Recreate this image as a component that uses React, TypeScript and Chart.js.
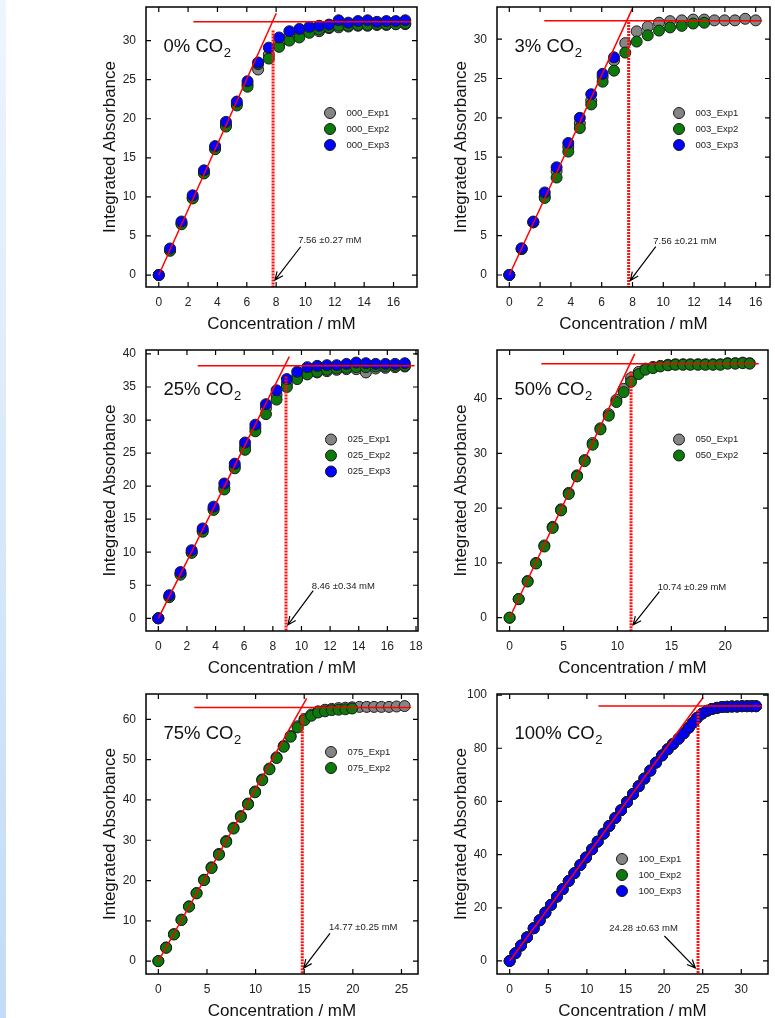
import React, { useEffect, useRef } from "react";
import { Chart, registerables } from "chart.js";

Chart.register(...registerables);

const FONT = 'Arial, "Liberation Sans", sans-serif';
const GRAY = "#858585";
const GREEN = "#0b7a0b";
const BLUE = "#0000ff";
const EDGE = "#1a1a1a";

// ---------- 0% CO2 ----------
const conc000 = [0, 0.77, 1.55, 2.31, 3.08, 3.84, 4.58, 5.32, 6.05, 6.77, 7.5, 8.2, 8.9, 9.58, 10.26, 10.93, 11.6, 12.26, 12.92, 13.58, 14.23, 14.87, 15.51, 16.15, 16.8];
const abs000_1 = [0, 3.2, 6.6, 9.9, 13.1, 16.2, 19.2, 21.9, 24.4, 26.3, 28.2, 29.7, 30.5, 31.0, 31.1, 31.2, 31.6, 31.7, 31.8, 31.9, 31.9, 32.0, 32.0, 32.1, 32.1];
const abs000_2 = [0, 3.1, 6.5, 9.8, 13.0, 16.1, 19.0, 21.7, 24.1, 27.0, 27.7, 29.2, 30.0, 30.4, 31.0, 31.4, 31.7, 31.9, 31.9, 32.0, 32.0, 32.1, 32.1, 32.1, 32.2];
const abs000_3 = [0, 3.4, 6.85, 10.2, 13.4, 16.5, 19.6, 22.2, 24.8, 27.2, 29.1, 30.4, 31.2, 31.5, 31.75, 31.9, 32.05, 32.6, 32.3, 32.5, 32.6, 32.4, 32.5, 32.5, 32.6];

// ---------- 3% CO2 ----------
const conc003_1 = [0, 0.8, 1.56, 2.3, 3.07, 3.83, 4.58, 5.32, 6.06, 6.8, 7.53, 8.27, 8.99, 9.72, 10.44, 11.2, 11.94, 12.66, 13.32, 13.98, 14.65, 15.32, 16.0];
const abs003_1 = [0, 3.3, 6.7, 10.0, 13.2, 16.3, 19.3, 22.2, 25.2, 27.3, 29.5, 31.0, 31.6, 32.1, 32.3, 32.4, 32.5, 32.5, 32.4, 32.4, 32.4, 32.6, 32.4];
const conc003_2 = [0, 0.8, 1.56, 2.3, 3.07, 3.83, 4.58, 5.32, 6.06, 6.8, 7.53, 8.27, 8.99, 9.72, 10.44, 11.2, 11.94, 12.66];
const abs003_2 = [0, 3.3, 6.7, 9.8, 12.4, 15.7, 18.7, 21.7, 24.6, 26.0, 28.3, 29.7, 30.5, 31.1, 31.5, 31.7, 32.0, 32.1];
const conc003_3 = [0, 0.8, 1.56, 2.3, 3.07, 3.83, 4.58, 5.32, 6.06, 6.8];
const abs003_3 = [0, 3.4, 6.8, 10.5, 13.7, 16.8, 20.0, 23.0, 25.6, 27.7];

// ---------- 25% CO2 ----------
const conc025 = [0, 0.77, 1.55, 2.33, 3.1, 3.86, 4.61, 5.34, 6.06, 6.78, 7.52, 8.26, 8.98, 9.7, 10.41, 11.1, 11.78, 12.46, 13.14, 13.82, 14.5, 15.18, 15.86, 16.54, 17.22];
const abs025_1 = [0, 3.3, 6.7, 10.0, 13.3, 16.6, 19.8, 23.0, 26.0, 28.8, 31.8, 33.8, 35.5, 36.6, 37.0, 37.2, 37.4, 37.6, 37.7, 37.7, 37.2, 37.8, 37.9, 38.0, 38.1];
const abs025_2 = [0, 3.2, 6.6, 9.9, 13.1, 16.4, 19.5, 22.7, 25.5, 28.3, 30.9, 33.1, 35.0, 36.2, 36.9, 37.3, 37.6, 37.8, 37.9, 38.0, 38.0, 38.1, 38.1, 38.2, 38.2];
const abs025_3 = [0, 3.5, 7.0, 10.3, 13.6, 16.9, 20.4, 23.4, 26.6, 29.3, 32.4, 34.5, 36.2, 37.3, 38.0, 38.2, 38.3, 38.3, 38.5, 38.7, 38.6, 38.5, 38.5, 38.5, 38.6];

// ---------- 50% CO2 ----------
const conc050 = [0, 0.84, 1.67, 2.45, 3.22, 3.99, 4.77, 5.48, 6.25, 6.96, 7.7, 8.42, 9.19, 9.9, 10.58, 11.26, 11.97, 12.6, 13.3, 13.98, 14.69, 15.37, 16.08, 16.76, 17.47, 18.15, 18.86, 19.54, 20.22, 20.93, 21.61, 22.26];
const abs050_1 = [0, 3.4, 6.7, 10.0, 13.2, 16.6, 19.8, 22.8, 26.0, 28.8, 31.9, 34.6, 37.2, 39.8, 41.8, 43.8, 44.9, 45.5, 45.8, 46.0, 46.2, 46.3, 46.3, 46.3, 46.3, 46.3, 46.3, 46.3, 46.5, 46.5, 46.6, 46.5];
const abs050_2 = [0, 3.4, 6.6, 9.9, 13.0, 16.4, 19.6, 22.6, 25.8, 28.6, 31.6, 34.4, 36.9, 39.4, 41.2, 43.1, 44.5, 45.3, 45.6, 45.9, 46.1, 46.2, 46.2, 46.2, 46.2, 46.2, 46.2, 46.2, 46.4, 46.4, 46.5, 46.4];

// ---------- 75% CO2 ----------
const conc075_1 = [0, 0.8, 1.6, 2.38, 3.15, 3.93, 4.7, 5.47, 6.23, 6.98, 7.73, 8.48, 9.22, 9.95, 10.68, 11.42, 12.16, 12.89, 13.6, 14.32, 15.03, 15.73, 16.43, 17.13, 17.83, 18.53, 19.23, 19.93, 20.68, 21.43, 22.18, 22.94, 23.72, 24.5, 25.32];
const abs075_1 = [0, 3.4, 6.7, 10.3, 13.6, 16.9, 20.2, 23.3, 26.6, 29.8, 33.1, 36.0, 39.1, 42.1, 45.1, 47.8, 50.6, 53.4, 55.9, 58.3, 60.1, 61.2, 62.0, 62.4, 62.6, 62.8, 62.9, 63.0, 63.1, 63.1, 63.1, 63.1, 63.1, 63.2, 63.3];
const conc075_2 = [0, 0.8, 1.6, 2.38, 3.15, 3.93, 4.7, 5.47, 6.23, 6.98, 7.73, 8.48, 9.22, 9.95, 10.68, 11.42, 12.16, 12.89, 13.6, 14.32, 15.03, 15.73, 16.43, 17.13, 17.83, 18.53, 19.23, 19.93];
const abs075_2 = [0, 3.3, 6.6, 10.2, 13.5, 16.8, 20.1, 23.1, 26.4, 29.6, 32.9, 35.8, 38.9, 41.9, 44.9, 47.6, 50.4, 53.2, 55.7, 58.0, 59.8, 60.9, 61.7, 62.0, 62.3, 62.4, 62.5, 62.7];

// ---------- 100% CO2 ----------
const conc100 = [0, 0.74, 1.47, 2.25, 3.11, 3.89, 4.63, 5.36, 6.14, 6.87, 7.65, 8.38, 9.16, 9.89, 10.67, 11.4, 12.18, 12.91, 13.69, 14.43, 15.2, 15.98, 16.71, 17.45, 18.22, 18.96, 19.74, 20.47, 21.16, 21.89, 22.54, 23.19, 23.75, 24.27, 24.92, 25.57, 26.21, 26.86, 27.51, 28.16, 28.8, 29.45, 30.1, 30.75, 31.35, 31.9];
const abs100_1 = [0, 2.9, 5.8, 8.9, 12.3, 15.3, 18.2, 21.1, 24.2, 27.0, 30.1, 33.0, 36.1, 38.9, 42.0, 44.9, 47.9, 50.8, 53.8, 56.7, 59.8, 62.8, 65.7, 68.6, 71.6, 74.6, 77.3, 79.6, 81.6, 83.6, 85.6, 87.7, 89.6, 91.4, 93.0, 94.1, 94.8, 95.2, 95.5, 95.6, 95.7, 95.7, 95.8, 95.8, 95.8, 95.8];
const abs100_2 = [0, 2.9, 5.8, 8.9, 12.3, 15.3, 18.2, 21.1, 24.2, 27.0, 30.1, 33.0, 36.1, 38.9, 42.0, 44.9, 47.9, 50.8, 53.8, 56.7, 59.8, 62.8, 65.7, 68.6, 71.6, 74.6, 77.3, 79.6, 81.6, 83.6, 85.6, 87.7, 89.6, 91.4, 93.0, 94.1, 94.8, 95.2, 95.5, 95.6, 95.7, 95.7, 95.8, 95.8, 95.8, 95.8];
const abs100_3 = [0, 2.9, 5.8, 8.9, 12.3, 15.3, 18.2, 21.1, 24.2, 27.0, 30.1, 33.0, 36.1, 38.9, 42.0, 44.9, 47.9, 50.8, 53.8, 56.7, 59.8, 62.8, 65.7, 68.6, 71.6, 74.6, 77.3, 79.6, 81.6, 83.6, 85.6, 87.7, 89.6, 91.4, 93.0, 94.1, 94.8, 95.2, 95.5, 95.6, 95.7, 95.7, 95.8, 95.8, 95.8, 95.8];

// ---------- tick values ----------
const xTicks16 = [0, 2, 4, 6, 8, 10, 12, 14, 16];
const xTicks18 = [0, 2, 4, 6, 8, 10, 12, 14, 16, 18];
const xTicks20 = [0, 5, 10, 15, 20];
const xTicks25 = [0, 5, 10, 15, 20, 25];
const xTicks30 = [0, 5, 10, 15, 20, 25, 30];
const yTicks30 = [0, 5, 10, 15, 20, 25, 30];
const yTicks40 = [0, 5, 10, 15, 20, 25, 30, 35, 40];
const yTicks40b = [0, 10, 20, 30, 40];
const yTicks60 = [0, 10, 20, 30, 40, 50, 60];
const yTicks100 = [0, 20, 40, 60, 80, 100];

// ---------- fit lines ----------
// end: slope-line end [x, y]; plateau: [from x, to x, y]; vline: [x, top y]
const fit000 = { end: [8.01, 33.5], plateau: [2.36, 17.2, 32.4], vline: [7.79, 31.3] };
const fit003 = { end: [7.99, 33.9], plateau: [2.27, 16.4, 32.35], vline: [7.75, 32.2] };
const fit025 = { end: [9.15, 39.6], plateau: [2.75, 17.9, 38.2], vline: [8.92, 36.6] };
const fit050 = { end: [11.6, 48.2], plateau: [2.94, 23.1, 46.4], vline: [11.26, 45.0] };
const fit075 = { end: [15.25, 65.2], plateau: [3.7, 26.0, 62.95], vline: [14.8, 61.5] };
const fit100 = { end: [25.05, 99.1], plateau: [11.5, 32.7, 95.9], vline: [24.4, 94.4] };

type Series = { label: string; x: number[]; y: number[]; color: string; order: number };
type Note = { text: string; tx: number; ty: number; ax: number; ay: number; bx: number; by: number };
type PanelDef = {
  pct: string;
  area: { l: number; t: number; r: number; b: number };
  xMin: number; xMax: number; yMin: number; yMax: number;
  xTicks: number[]; yTicks: number[];
  series: Series[];
  fit: { end: number[]; plateau: number[]; vline: number[] };
  note: Note;
  legend: { dx: number; dy: number };
};

const s = (label: string, x: number[], y: number[], color: string, order: number): Series => ({ label, x, y, color, order });

const panels: PanelDef[] = [
  {
    pct: "0% CO", area: { l: 146, t: 7, r: 417, b: 287 },
    xMin: -0.87, xMax: 17.6, yMin: -1.53, yMax: 34.3, xTicks: xTicks16, yTicks: yTicks30,
    series: [s("000_Exp1", conc000, abs000_1, GRAY, 3), s("000_Exp2", conc000, abs000_2, GREEN, 2), s("000_Exp3", conc000, abs000_3, BLUE, 1)],
    fit: fit000,
    note: { text: "7.56 \u00b10.27 mM", tx: 9.5, ty: 4.48, ax: 9.67, ay: 3.62, bx: 7.92, by: -0.64 },
    legend: { dx: 184, dy: 106 },
  },
  {
    pct: "3% CO", area: { l: 497, t: 7, r: 770, b: 287 },
    xMin: -0.8, xMax: 16.93, yMin: -1.53, yMax: 34.1, xTicks: xTicks16, yTicks: yTicks30,
    series: [s("003_Exp1", conc003_1, abs003_1, GRAY, 3), s("003_Exp2", conc003_2, abs003_2, GREEN, 2), s("003_Exp3", conc003_3, abs003_3, BLUE, 1)],
    fit: fit003,
    note: { text: "7.56 \u00b10.21 mM", tx: 9.35, ty: 4.26, ax: 9.51, ay: 3.62, bx: 7.86, by: -0.7 },
    legend: { dx: 182, dy: 106 },
  },
  {
    pct: "25% CO", area: { l: 146, t: 350, r: 418, b: 631 },
    xMin: -0.86, xMax: 18.14, yMin: -1.92, yMax: 40.6, xTicks: xTicks18, yTicks: yTicks40,
    series: [s("025_Exp1", conc025, abs025_1, GRAY, 3), s("025_Exp2", conc025, abs025_2, GREEN, 2), s("025_Exp3", conc025, abs025_3, BLUE, 1)],
    fit: fit025,
    note: { text: "8.46 \u00b10.34 mM", tx: 10.71, ty: 4.78, ax: 10.82, ay: 4.18, bx: 9.05, by: -1.0 },
    legend: { dx: 185, dy: 89.5 },
  },
  {
    pct: "50% CO", area: { l: 497, t: 350, r: 768, b: 631 },
    xMin: -1.17, xMax: 23.96, yMin: -2.43, yMax: 48.9, xTicks: xTicks20, yTicks: yTicks40b,
    series: [s("050_Exp1", conc050, abs050_1, GRAY, 3), s("050_Exp2", conc050, abs050_2, GREEN, 2)],
    fit: fit050,
    note: { text: "10.74 \u00b10.29 mM", tx: 13.73, ty: 5.56, ax: 13.89, ay: 4.75, bx: 11.45, by: -1.3 },
    legend: { dx: 182, dy: 89.5 },
  },
  {
    pct: "75% CO", area: { l: 146, t: 694, r: 418, b: 974 },
    xMin: -1.27, xMax: 26.7, yMin: -3.2, yMax: 66.3, xTicks: xTicks25, yTicks: yTicks60,
    series: [s("075_Exp1", conc075_1, abs075_1, GRAY, 3), s("075_Exp2", conc075_2, abs075_2, GREEN, 2)],
    fit: fit075,
    note: { text: "14.77 \u00b10.25 mM", tx: 17.54, ty: 8.26, ax: 17.65, ay: 6.87, bx: 14.95, by: -1.7 },
    legend: { dx: 185, dy: 58 },
  },
  {
    pct: "100% CO", area: { l: 497, t: 694, r: 768, b: 974 },
    xMin: -1.64, xMax: 33.46, yMin: -4.9, yMax: 100.4, xTicks: xTicks30, yTicks: yTicks100,
    series: [s("100_Exp1", conc100, abs100_1, GRAY, 3), s("100_Exp2", conc100, abs100_2, GREEN, 2), s("100_Exp3", conc100, abs100_3, BLUE, 1)],
    fit: fit100,
    note: { text: "24.28 \u00b10.63 mM", tx: 12.9, ty: 12.3, ax: 20.04, ay: 9.4, bx: 24.05, by: -2.6 },
    legend: { dx: 125, dy: 165 },
  },
];

const AXW = 60; // y-axis box width
const AXH = 60; // x-axis box height
const PADT = 20;
const PADR = 15;

function decorPlugin(p: PanelDef) {
  return {
    id: "decor" + p.pct,
    afterDatasetsDraw(chart: any) {
      const { ctx, chartArea: a, scales } = chart;
      const xs = scales.x;
      const ys = scales.y;
      ctx.save();
      // frame
      ctx.strokeStyle = "#000";
      ctx.lineWidth = 1.5;
      ctx.strokeRect(a.left, a.top, a.right - a.left, a.bottom - a.top);
      // inward ticks on all sides
      const TL = 5;
      ctx.lineWidth = 1.2;
      ctx.beginPath();
      p.xTicks.forEach((v) => {
        const px = xs.getPixelForValue(v);
        ctx.moveTo(px, a.bottom); ctx.lineTo(px, a.bottom - TL);
        ctx.moveTo(px, a.top); ctx.lineTo(px, a.top + TL);
      });
      p.yTicks.forEach((v) => {
        const py = ys.getPixelForValue(v);
        ctx.moveTo(a.left, py); ctx.lineTo(a.left + TL, py);
        ctx.moveTo(a.right, py); ctx.lineTo(a.right - TL, py);
      });
      ctx.stroke();

      // panel label  "xx% CO2"
      ctx.fillStyle = "#111";
      ctx.font = `18.5px ${FONT}`;
      ctx.textBaseline = "alphabetic";
      ctx.textAlign = "left";
      const lx = a.left + 17.5;
      const ly = a.top + 44.5;
      ctx.fillText(p.pct, lx, ly);
      const w = ctx.measureText(p.pct).width;
      ctx.font = `13px ${FONT}`;
      ctx.fillText("2", lx + w + 0.5, ly + 5);

      // legend
      p.series.forEach((sr, i) => {
        const cx = a.left + p.legend.dx;
        const cy = a.top + p.legend.dy + i * 16;
        ctx.beginPath();
        ctx.arc(cx, cy, 5.5, 0, Math.PI * 2);
        ctx.fillStyle = sr.color;
        ctx.fill();
        ctx.lineWidth = 1;
        ctx.strokeStyle = EDGE;
        ctx.stroke();
        ctx.fillStyle = "#222";
        ctx.font = `9.5px ${FONT}`;
        ctx.textBaseline = "middle";
        ctx.fillText(sr.label, cx + 16.5, cy);
      });

      // annotation + arrow
      const n = p.note;
      ctx.fillStyle = "#222";
      ctx.font = `9.5px ${FONT}`;
      ctx.textBaseline = "middle";
      ctx.fillText(n.text, xs.getPixelForValue(n.tx), ys.getPixelForValue(n.ty));
      const x1 = xs.getPixelForValue(n.ax), y1 = ys.getPixelForValue(n.ay);
      const x2 = xs.getPixelForValue(n.bx), y2 = ys.getPixelForValue(n.by);
      const ang = Math.atan2(y2 - y1, x2 - x1);
      const hl = 9, ha = 0.42;
      ctx.strokeStyle = "#000";
      ctx.lineWidth = 1.2;
      ctx.beginPath();
      ctx.moveTo(x1, y1); ctx.lineTo(x2, y2);
      ctx.moveTo(x2 - hl * Math.cos(ang - ha), y2 - hl * Math.sin(ang - ha));
      ctx.lineTo(x2, y2);
      ctx.lineTo(x2 - hl * Math.cos(ang + ha), y2 - hl * Math.sin(ang + ha));
      ctx.moveTo(x2 - hl * Math.cos(ang), y2 - hl * Math.sin(ang));
      ctx.lineTo(x2, y2);
      ctx.stroke();
      ctx.restore();
    },
  };
}

function buildConfig(p: PanelDef): any {
  const pts = p.series.map((sr) => ({
    label: sr.label,
    data: sr.x.map((v, i) => ({ x: v, y: sr.y[i] })),
    backgroundColor: sr.color,
    borderColor: EDGE,
    borderWidth: 1,
    pointRadius: 5.5,
    pointHoverRadius: 5.5,
    order: sr.order,
  }));
  const f = p.fit;
  const lines = [
    {
      label: "fit",
      data: [{ x: 0, y: 0 }, { x: f.end[0], y: f.end[1] }],
      showLine: true, borderColor: "#ff0000", borderWidth: 1.5, pointRadius: 0, order: 0,
    },
    {
      label: "plateau",
      data: [{ x: f.plateau[0], y: f.plateau[2] }, { x: f.plateau[1], y: f.plateau[2] }],
      showLine: true, borderColor: "#ff0000", borderWidth: 1.5, pointRadius: 0, order: 0,
    },
    {
      label: "equivalence",
      data: [{ x: f.vline[0], y: f.vline[1] }, { x: f.vline[0], y: p.yMin }],
      showLine: true, borderColor: "#ff1010", borderWidth: 3, borderDash: [2, 1], pointRadius: 0, order: 0,
    },
  ];
  const tickFont = { size: 12, family: FONT };
  const titleFont = { size: 17, family: FONT };
  return {
    type: "scatter",
    data: { datasets: [...pts, ...lines] },
    options: {
      animation: false,
      responsive: false,
      events: [],
      layout: { padding: { top: PADT, right: PADR, left: 0, bottom: 0 } },
      plugins: { legend: { display: false }, tooltip: { enabled: false } },
      scales: {
        x: {
          type: "linear", position: "bottom", min: p.xMin, max: p.xMax,
          grid: { display: false, drawTicks: false }, border: { display: false },
          afterBuildTicks: (sc: any) => { sc.ticks = p.xTicks.map((v) => ({ value: v })); },
          afterFit: (sc: any) => { sc.height = AXH; },
          ticks: { padding: 8, color: "#222", font: tickFont, maxRotation: 0, autoSkip: false, callback: (v: any) => String(v) },
          title: { display: true, text: "Concentration / mM", color: "#111", font: titleFont, padding: { top: 0, bottom: 12.8 } },
        },
        y: {
          type: "linear", position: "left", min: p.yMin, max: p.yMax,
          grid: { display: false, drawTicks: false }, border: { display: false },
          afterBuildTicks: (sc: any) => { sc.ticks = p.yTicks.map((v) => ({ value: v })); },
          afterFit: (sc: any) => { sc.width = AXW; },
          ticks: { padding: 10, color: "#222", font: tickFont, autoSkip: false, callback: (v: any) => String(v) },
          title: { display: true, text: "Integrated Absorbance", color: "#111", font: titleFont, padding: { top: 13.8, bottom: 0 } },
        },
      },
    },
    plugins: [decorPlugin(p)],
  };
}

function Panel({ p }: { p: PanelDef }) {
  const ref = useRef<HTMLCanvasElement | null>(null);
  useEffect(() => {
    const chart = new Chart(ref.current as HTMLCanvasElement, buildConfig(p));
    return () => chart.destroy();
  }, [p]);
  const w = p.area.r - p.area.l + AXW + PADR;
  const h = p.area.b - p.area.t + PADT + AXH;
  return (
    <canvas
      ref={ref}
      width={w}
      height={h}
      style={{ position: "absolute", left: p.area.l - AXW, top: p.area.t - PADT, width: w, height: h }}
    />
  );
}

export default function App() {
  return (
    <div style={{ position: "absolute", left: 0, top: 0, width: 775, height: 1018, overflow: "hidden", background: "#fff" }}>
      <div style={{ position: "absolute", left: 0, top: 0, width: 6, height: 1018, background: "linear-gradient(to bottom, #eef5fd, #c2dbf6)" }} />
      {panels.map((p) => (
        <Panel key={p.pct} p={p} />
      ))}
    </div>
  );
}
